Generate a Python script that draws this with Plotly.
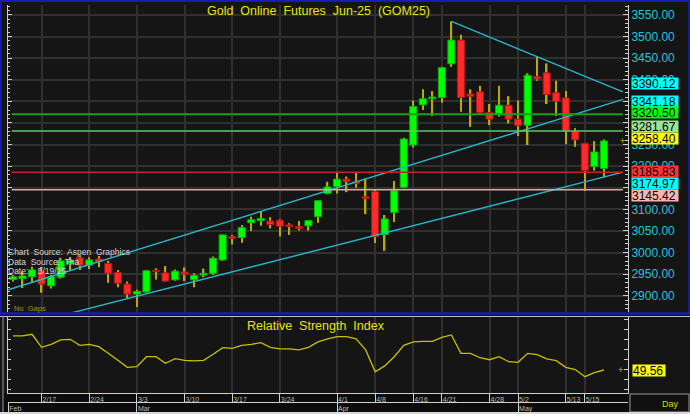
import plotly.graph_objects as go

# ---------------- data ----------------
opens = [2938, 2940, 2944, 2957, 2923, 2943, 2974, 2988, 2971, 2985,
         2975, 2954, 2927, 2904, 2909, 2959, 2953, 2937, 2955, 2937,
         2948, 2952, 2983, 3037, 3035, 3069, 3074, 3073, 3075, 3064,
         3060, 3062, 3083, 3137, 3153, 3170, 3164, 3129, 3141, 3042,
         3093, 3151, 3249, 3342, 3356, 3359, 3437, 3492, 3367, 3372,
         3324, 3321, 3341, 3309, 3295, 3407, 3416, 3370, 3358, 3280,
         3253, 3199, 3195]
highs = [2948, 2956, 2967, 2967, 2948, 2988, 2990, 2994, 2989, 2992,
         2981, 2960, 2933, 2914, 2960, 2964, 2969, 2961, 2966, 2952,
         2963, 2991, 3042, 3041, 3064, 3083, 3095, 3082, 3077, 3068,
         3073, 3075, 3122, 3164, 3185, 3176, 3185, 3172, 3145, 3087,
         3166, 3266, 3352, 3378, 3374, 3430, 3535, 3504, 3378, 3386,
         3344, 3386, 3362, 3352, 3415, 3454, 3438, 3398, 3374, 3288,
         3253, 3258, 3262]
lows = [2933, 2918, 2932, 2907, 2917, 2940, 2960, 2960, 2962, 2966,
        2930, 2920, 2894, 2874, 2907, 2938, 2933, 2935, 2934, 2920,
        2943, 2948, 2981, 3019, 3023, 3050, 3062, 3056, 3037, 3041,
        3051, 3051, 3069, 3135, 3137, 3140, 3150, 3089, 3022, 3004,
        3071, 3149, 3243, 3330, 3316, 3347, 3430, 3326, 3291, 3319,
        3295, 3315, 3299, 3270, 3249, 3398, 3344, 3316, 3251, 3245,
        3143, 3190, 3174]
closes = [2944, 2946, 2960, 2927, 2944, 2981, 2982, 2971, 2983, 2979,
          2952, 2929, 2904, 2910, 2958, 2956, 2934, 2957, 2950, 2947,
          2952, 2987, 3041, 3033, 3058, 3076, 3079, 3065, 3061, 3060,
          3056, 3074, 3120, 3152, 3170, 3165, 3160, 3125, 3037, 3078,
          3143, 3263, 3338, 3356, 3360, 3428, 3492, 3359, 3362, 3324,
          3309, 3341, 3309, 3294, 3410, 3402, 3366, 3350, 3281, 3261,
          3190, 3233, 3258.40]
rsi = [66.6, 66.6, 67.4, 60.9, 62.4, 64.6, 64.9, 61.9, 62.4, 61.2,
       57.9, 54.2, 50.9, 51.2, 56.2, 56.2, 52.9, 55.2, 54.4, 54.1,
       54.4, 57.4, 60.7, 60.4, 61.9, 62.4, 63.2, 60.9, 60.1, 60.1,
       59.6, 60.9, 63.6, 65.1, 66.2, 66.2, 65.1, 59.6, 48.7, 51.6,
       56.2, 61.9, 63.6, 63.9, 63.9, 65.9, 67.1, 57.9, 57.9, 55.7,
       54.7, 56.2, 53.7, 53.4, 57.9, 57.2, 55.1, 54.2, 50.9, 49.8,
       46.2, 48.2, 49.56]

date_tick_idx = [3, 8, 13, 18, 23, 28, 34, 38, 42, 45, 50, 53, 58, 60]
date_tick_text = ["2/17", "2/24", "3/3", "3/10", "3/17", "3/24", "4/1",
                  "4/8", "4/16", "4/21", "4/28", "5/2", "5/13", "5/15"]
month_tick_idx = [-0.5, 13, 34, 53]
month_tick_text = ["Feb", "Mar", "Apr", "May"]
# right price-axis ticks; labels hidden behind the value boxes are left blank
price_tick_vals = [2900, 2950, 3000, 3050, 3100, 3150, 3200, 3250, 3300,
                   3350, 3400, 3450, 3500, 3550]
price_tick_text = ["2900.00", "2950.00", "3000.00", "3050.00", "3100.00", "",
                   "3200.00", "3250.00", "", "", "3400.00", "3450.00",
                   "3500.00", "3550.00"]

# horizontal support / resistance levels
level_values = [3320.50, 3281.67, 3185.83, 3145.42]
# trend lines (bar index, price)
upper_channel_x = [-0.5, 64.0]
upper_channel_y = [2914.1, 3354.8]
lower_channel_x = [5.0, 64.0]
lower_channel_y = [2854.0, 3186.2]
downtrend_x = [46, 64]
downtrend_y = [3535.0, 3372.0]
# values shown in the right-hand price boxes
trend_values_at_last = [3390.12, 3341.18, 3174.97]
last_close = 3258.40
last_rsi = 49.56

title_text = "Gold\u00a0 Online\u00a0 Futures\u00a0 Jun-25\u00a0 (GOM25)"
rsi_title = "Relative\u00a0 Strength\u00a0 Index"
info_lines = ["Chart\u00a0 Source:\u00a0 Aspen\u00a0 Graphics",
              "Data\u00a0 Source:\u00a0 Tha",
              "Date:\u00a0\u00a0\u00a0 5/19/25"]

# ---------------- helpers / style ----------------
W, H = 690, 414
def px(x):
    return x / W
def py(y):
    return 1 - y / H

FONT = "Liberation Sans, Arial, sans-serif"
BG = "#151515"
GRID = "#303030"
AXIS = "#cfcfcf"
CYAN_TXT = "#1ec8d8"
TREND = "#27b6c8"
YEL = "#e6e600"

n = len(closes)
idx = list(range(n))
xr = [-0.525, 64.53]
yr_main = [2862.5, 3573.1]
yr_rsi = [38.06, 76.06]

is_up = [c >= o for o, c in zip(opens, closes)]
body_base = [min(o, c) for o, c in zip(opens, closes)]
body_len = [abs(c - o) for o, c in zip(opens, closes)]
wick_len = [h - l for h, l in zip(highs, lows)]
body_fill = ["#00ff00" if u else "#ff2a2a" for u in is_up]
body_edge = ["#00b400" if u else "#b01414" for u in is_up]

fig = go.Figure()

# wicks (drawn first so bodies cover them)
fig.add_trace(go.Bar(x=idx, y=wick_len, base=lows, width=0.15,
                     marker=dict(color="#b8aa00", line=dict(width=0)),
                     xaxis="x", yaxis="y", hoverinfo="skip", showlegend=False))
# bodies
fig.add_trace(go.Bar(x=idx, y=body_len, base=body_base, width=0.74,
                     marker=dict(color=body_fill, line=dict(color=body_edge, width=1)),
                     xaxis="x", yaxis="y", hoverinfo="skip", showlegend=False))

for tx, ty in [(upper_channel_x, upper_channel_y),
               (lower_channel_x, lower_channel_y),
               (downtrend_x, downtrend_y)]:
    fig.add_trace(go.Scatter(x=tx, y=ty, mode="lines",
                             line=dict(color=TREND, width=1.4),
                             xaxis="x", yaxis="y", hoverinfo="skip", showlegend=False))

fig.add_trace(go.Scatter(x=idx, y=rsi, mode="lines",
                         line=dict(color="#c8c000", width=1.3),
                         xaxis="x2", yaxis="y2", hoverinfo="skip", showlegend=False))

# invisible carriers so that the overlay axes (left tick rails, month row) are drawn
for xa, ya, yy in [("x", "y3", closes), ("x3", "y2", rsi), ("x2", "y4", rsi)]:
    fig.add_trace(go.Scatter(x=idx, y=yy, mode="lines", opacity=0,
                             line=dict(width=0), xaxis=xa, yaxis=ya,
                             hoverinfo="skip", showlegend=False))

# ---------------- shapes ----------------
level_styles = [
    dict(color="#16a016", width=2),
    dict(color="#5ec85e", width=1.5),
    dict(color="#c82222", width=1.5),
    dict(color="#d8aaa2", width=1.5),
]
shapes = []
for v, st in zip(level_values, level_styles):
    shapes.append(dict(type="line", xref="x domain", yref="y", x0=0.006, x1=0.992,
                       y0=v, y1=v, line=st, layer="above"))
# frame decorations
shapes += [
    dict(type="rect", xref="paper", yref="paper", x0=px(0.5), x1=px(689.5),
         y0=py(313.5), y1=py(0.8), line=dict(color="#1a1ab8", width=2.5)),
    dict(type="line", xref="paper", yref="paper", x0=0, x1=1, y0=py(316.5), y1=py(316.5),
         line=dict(color="#bdbdbd", width=1.2)),
    dict(type="line", xref="paper", yref="paper", x0=px(3), x1=px(3), y0=py(412), y1=py(316.5),
         line=dict(color="#9a9a9a", width=1)),
    dict(type="rect", xref="paper", yref="paper", x0=px(630), x1=px(689), y0=py(412),
         y1=py(394), line=dict(color="#9a9a9a", width=1), fillcolor="#101010"),
    dict(type="rect", xref="paper", yref="paper", x0=px(3), x1=px(629), y0=py(412),
         y1=py(393), line=dict(width=0), fillcolor="#0c0c0c", layer="below"),
    dict(type="line", xref="paper", yref="paper", x0=0, x1=1, y0=py(413), y1=py(413),
         line=dict(color="#d8d8d8", width=2)),
]

# ---------------- annotations ----------------
ann = []
ann.append(dict(text=title_text, x=px(318), y=py(11), xref="paper", yref="paper",
                showarrow=False, font=dict(family=FONT, size=12.5, color=YEL),
                xanchor="center", yanchor="middle"))
ann.append(dict(text=rsi_title, x=px(316), y=py(326), xref="paper", yref="paper",
                showarrow=False, font=dict(family=FONT, size=12.5, color=YEL),
                xanchor="center", yanchor="middle"))
for i, line in enumerate(info_lines):
    ann.append(dict(text=line, x=px(6), y=py(252 + 9.5 * i), xref="paper", yref="paper",
                    showarrow=False, font=dict(family=FONT, size=8.5, color="#d6d6d6"),
                    xanchor="left", yanchor="middle"))
ann.append(dict(text="No\u00a0 Gaps", x=px(12), y=py(308), xref="paper", yref="paper",
                showarrow=False, font=dict(family=FONT, size=7.5, color="#a09a00"),
                xanchor="left", yanchor="middle"))
ann.append(dict(text="Day", x=px(670), y=py(404), xref="paper", yref="paper",
                showarrow=False, font=dict(family=FONT, size=9, color="#d8d800"),
                xanchor="center", yanchor="middle"))

# right-hand price boxes: (value, background, pixel nudge to avoid overlap)
price_boxes = [
    (trend_values_at_last[0], "#00ffff", 1),
    (trend_values_at_last[1], "#00ffff", 4),
    (level_values[0], "#00ff00", 2),
    (level_values[1], "#98e498", 4),
    (last_close, "#ffff00", 2.5),
    (level_values[2], "#ff3434", 1),
    (trend_values_at_last[2], "#00ffff", -6),
    (level_values[3], "#ffb4b0", -6),
]
for v, bg, dy in price_boxes:
    ann.append(dict(text=f"{v:.2f}", x=px(631), y=v, xref="paper", yref="y",
                    yshift=dy, showarrow=False, bgcolor=bg, borderpad=0,
                    width=46, height=11, align="left",
                    font=dict(family=FONT, size=12, color="#000000"),
                    xanchor="left", yanchor="middle"))
ann.append(dict(text=f"{last_rsi:.2f}", x=px(632), y=last_rsi, xref="paper", yref="y2",
                showarrow=False, bgcolor="#ffff00", borderpad=0, width=32, height=11,
                align="left", font=dict(family=FONT, size=12, color="#000000"),
                xanchor="left", yanchor="middle"))
# last-value markers
ann.append(dict(text="+", x=px(622), y=last_close, xref="paper", yref="y",
                showarrow=False, font=dict(family=FONT, size=9, color="#d0c000"),
                xanchor="center", yanchor="middle"))
ann.append(dict(text="+", x=px(620), y=last_rsi, xref="paper", yref="y2",
                showarrow=False, font=dict(family=FONT, size=9, color="#d0c000"),
                xanchor="center", yanchor="middle"))

# ---------------- layout ----------------
xdom = [px(8), px(628)]
main_dom = [py(312), py(5)]
rsi_dom = [py(393), py(317)]

common_y_ticks = dict(ticks="inside", tickcolor=AXIS, tickwidth=1,
                      showline=True, linecolor=AXIS, linewidth=1, zeroline=False)

fig.update_layout(
    template="none",
    width=W, height=H,
    margin=dict(l=0, r=0, t=0, b=0, pad=0),
    paper_bgcolor=BG, plot_bgcolor=BG,
    barmode="overlay",
    showlegend=False,
    hovermode=False,
    xaxis=dict(domain=xdom, range=xr, anchor="y", tickmode="array",
               tickvals=date_tick_idx, showticklabels=False, ticks="",
               showgrid=True, gridcolor=GRID, gridwidth=1.5, zeroline=False,
               showline=False, automargin=False),
    xaxis2=dict(domain=xdom, range=xr, anchor="y2", tickmode="array",
                tickvals=date_tick_idx, ticktext=date_tick_text, tickangle=0,
                ticks="outside", ticklen=8, tickcolor=AXIS, tickwidth=1,
                ticklabelposition="outside right",
                tickfont=dict(family=FONT, size=7, color="#bcbcbc"),
                showgrid=True, gridcolor=GRID, gridwidth=1.5, zeroline=False,
                showline=True, linecolor=AXIS, linewidth=1, automargin=False),
    xaxis3=dict(overlaying="x2", anchor="free", position=py(402), range=xr,
                tickmode="array", tickvals=month_tick_idx, ticktext=month_tick_text,
                tickangle=0,
                ticks="outside", ticklen=10, tickcolor=AXIS, tickwidth=1,
                ticklabelposition="outside right",
                tickfont=dict(family=FONT, size=7, color="#bcbcbc"),
                showgrid=False, zeroline=False, showline=True, linecolor=AXIS,
                linewidth=1, automargin=False),
    yaxis=dict(domain=main_dom, range=yr_main, side="right", anchor="x",
               tickmode="array", tickvals=price_tick_vals, ticktext=price_tick_text,
               tickfont=dict(family=FONT, size=12, color=CYAN_TXT), ticklen=5,
               minor=dict(dtick=10, tick0=2900, ticks="inside", ticklen=3,
                          tickcolor=AXIS, showgrid=False),
               showgrid=True, gridcolor=GRID, gridwidth=1.5, automargin=False,
               **common_y_ticks),
    yaxis3=dict(overlaying="y", range=yr_main, side="left", anchor="x",
                tickmode="linear", tick0=2900, dtick=50, ticklen=4,
                minor=dict(dtick=10, tick0=2900, ticks="inside", ticklen=2,
                           tickcolor=AXIS, showgrid=False),
                showticklabels=False, showgrid=False, automargin=False,
                **common_y_ticks),
    yaxis2=dict(domain=rsi_dom, range=yr_rsi, side="right", anchor="x2",
                tickmode="linear", tick0=0, dtick=5, ticklen=4,
                showticklabels=False, showgrid=False, automargin=False,
                **common_y_ticks),
    yaxis4=dict(overlaying="y2", range=yr_rsi, side="left", anchor="x2",
                tickmode="linear", tick0=0, dtick=5, ticklen=3,
                showticklabels=False, showgrid=False, automargin=False,
                **common_y_ticks),
    shapes=shapes,
    annotations=ann,
)

fig.write_html("out.html", config={"displayModeBar": False},
               post_script="document.body.style.margin='0';document.body.style.overflow='hidden';")
